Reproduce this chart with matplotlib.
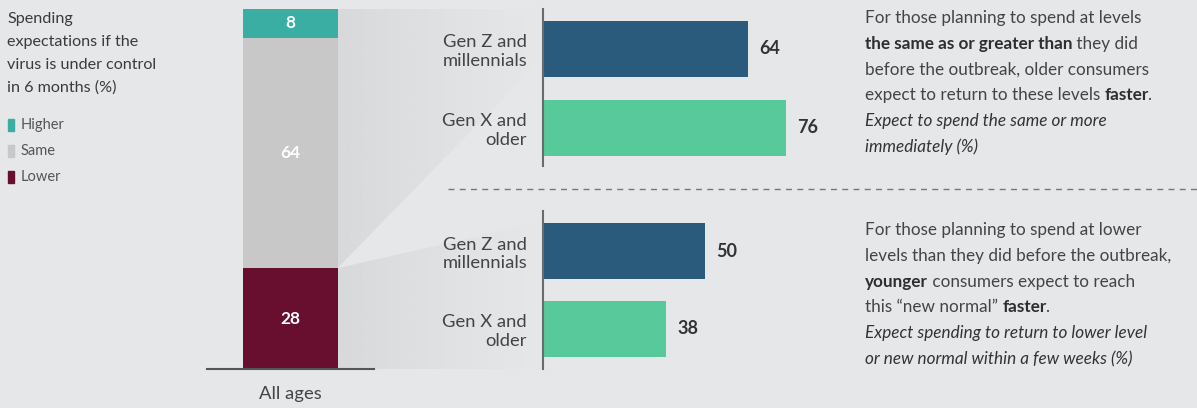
import numpy as np
import matplotlib.pyplot as plt
from matplotlib.patches import Polygon, Rectangle

# ---------------- data ----------------
mix_labels = ['Lower', 'Same', 'Higher']
mix_values = [28, 64, 8]
mix_colors = ['#680e2f', '#c8c8c8', '#3aaea3']
overall_label = 'All ages'

groups = ['Gen Z and\nmillennials', 'Gen X and\nolder']
same_or_more = [64, 76]        # expect to spend same or more immediately (%)
lower_new_normal = [50, 38]    # expect lower level / new normal within weeks (%)
group_colors = ['#2a5b7c', '#58c99a']

title_lines = ['Spending', 'expectations if the', 'virus is under control', 'in 6 months (%)']

upper_note = [
    [('For those planning to spend at levels', 'n')],
    [('the same as or greater than', 'b'), (' they did', 'n')],
    [('before the outbreak, older consumers', 'n')],
    [('expect to return to these levels ', 'n'), ('faster', 'b'), ('.', 'n')],
    [('Expect to spend the same or more', 'i')],
    [('immediately (%)', 'i')],
]
lower_note = [
    [('For those planning to spend at lower', 'n')],
    [('levels than they did before the outbreak,', 'n')],
    [('younger', 'b'), (' consumers expect to reach', 'n')],
    [('this \u201cnew normal\u201d ', 'n'), ('faster', 'b'), ('.', 'n')],
    [('Expect spending to return to lower level', 'i')],
    [('or new normal within a few weeks (%)', 'i')],
]

# ---------------- setup ----------------
W, H = 1197, 408
BG = '#e6e7e9'
TXT = '#3a3a3a'
FS = 12.3

plt.rcParams['font.family'] = ['Lato', 'DejaVu Sans']

fig = plt.figure(figsize=(W / 100, H / 100), dpi=100, facecolor=BG)


def px_axes(x0, y0, x1, y1):
    # box in pixels, origin top-left
    return fig.add_axes([x0 / W, 1 - y1 / H, (x1 - x0) / W, (y1 - y0) / H])


over = px_axes(0, 0, W, H)
over.set_xlim(0, W)
over.set_ylim(H, 0)
over.axis('off')
over.set_zorder(0)
over.patch.set_alpha(0)

# ---------------- stacked bar (all ages) ----------------
ax_s = px_axes(207, 9, 374, 369)
ax_s.set_zorder(1)
ax_s.patch.set_alpha(0)
bottom = 0
for lab, v, c in zip(mix_labels, mix_values, mix_colors):
    ax_s.bar(0, v, bottom=bottom, width=1, color=c)
    ax_s.text(0, bottom + v / 2, str(v), ha='center', va='center',
              color='white', fontweight='bold', fontsize=12.5)
    bottom += v
ax_s.set_ylim(0, 100)
ax_s.set_xlim(-0.888, 0.888)
for s in ['top', 'left', 'right']:
    ax_s.spines[s].set_visible(False)
ax_s.spines['bottom'].set_color('#555555')
ax_s.spines['bottom'].set_linewidth(1.5)
ax_s.set_yticks([])
ax_s.set_xticks([0], [overall_label])
ax_s.tick_params(axis='x', length=0, pad=12, labelsize=13.3, labelcolor='#444444')


# ---------------- group bars ----------------
def group_panel(box, vals, ylim, height, xmax):
    ax = px_axes(*box)
    ax.set_zorder(1)
    ax.patch.set_alpha(0)
    bars = ax.barh(range(len(vals)), vals, height=height, color=group_colors)
    ax.bar_label(bars, padding=8, fontweight='bold', fontsize=13, color='#333333')
    ax.set_ylim(*ylim)
    ax.set_xlim(0, xmax)
    for s in ['top', 'right', 'bottom']:
        ax.spines[s].set_visible(False)
    ax.spines['left'].set_color('#6b6b6b')
    ax.spines['left'].set_linewidth(1.5)
    ax.set_xticks([])
    ax.set_yticks(range(len(groups)), groups)
    ax.tick_params(axis='y', length=0, pad=11.5, labelsize=13.2, labelcolor='#444444')
    for t in ax.get_yticklabels():
        t.set_linespacing(1.2)
    return ax


ax_u = group_panel((543, 9, 863, 166), same_or_more, (1.481, -0.506), 0.709, 100)
ax_l = group_panel((543, 211, 863, 369), lower_new_normal, (1.513, -0.513), 0.718, 98.8)

# ---------------- connector fans ----------------
to_over = over.transData.inverted()
bx, by_top = to_over.transform(ax_s.transData.transform((0.5, 100)))
_, by_mid = to_over.transform(ax_s.transData.transform((0.5, mix_values[0])))
_, by_bot = to_over.transform(ax_s.transData.transform((0.5, 0)))
rx = 545

fan_up = [(bx, by_top), (rx, by_top), (rx, 55), (bx, by_mid)]
fan_lo = [(bx, by_mid), (rx, 221), (rx, by_bot), (bx, by_bot)]

grad = np.zeros((2, 256, 4))
grad[..., :3] = np.array([0xd8, 0xd9, 0xdb]) / 255
grad[..., 3] = np.linspace(1, 0, 256) ** 1.2
for pts in (fan_up, fan_lo):
    poly = Polygon(pts, closed=True, facecolor='none', edgecolor='none')
    over.add_patch(poly)
    im = over.imshow(grad, extent=(bx, rx, by_bot, by_top), aspect='auto',
                     interpolation='bilinear', zorder=0)
    im.set_clip_path(poly)
over.set_xlim(0, W)
over.set_ylim(H, 0)

# dashed divider
over.plot([448, W], [189, 189], color='#777777', lw=1, ls=(0, (4.3, 3.8)))

# ---------------- left title + legend ----------------
for i, line in enumerate(title_lines):
    over.text(7, 23 + i * 23, line, fontsize=11.6, color=TXT, va='baseline', ha='left')

for i, (lab, c) in enumerate(zip(mix_labels[::-1], mix_colors[::-1])):
    yc = 125 + i * 26
    over.add_patch(Rectangle((8, yc - 6), 6, 12, color=c))
    over.text(20.5, yc, lab, fontsize=10.5, color='#555555', va='center', ha='left')

# ---------------- right notes ----------------
renderer = fig.canvas.get_renderer()
styles = {
    'n': dict(fontweight='normal', fontstyle='normal', color='#444444'),
    'b': dict(fontweight='bold', fontstyle='normal', color='#2e2e2e'),
    'i': dict(fontweight='normal', fontstyle='italic', color='#333333'),
}


def text_width(s, kw):
    t = over.text(0, 0, s, fontsize=FS, **kw)
    w = t.get_window_extent(renderer).width
    t.remove()
    return w


def advance(s, kw):
    # horizontal advance of s, independent of ink bounds
    return text_width('x' + s + 'x', kw) - text_width('xx', kw)


def rich_line(x, y, segs):
    for s, st in segs:
        kw = styles[st]
        if s.startswith('.'):
            x -= 2  # tuck the full stop against the bold word
        over.text(x, y, s, fontsize=FS, va='baseline', ha='left', **kw)
        x += advance(s, kw)


for i, segs in enumerate(upper_note):
    rich_line(865, 23 + i * 25.8, segs)
for i, segs in enumerate(lower_note):
    rich_line(865, 235 + i * 25.8, segs)

fig.savefig('out.png', dpi=100, facecolor=BG)
